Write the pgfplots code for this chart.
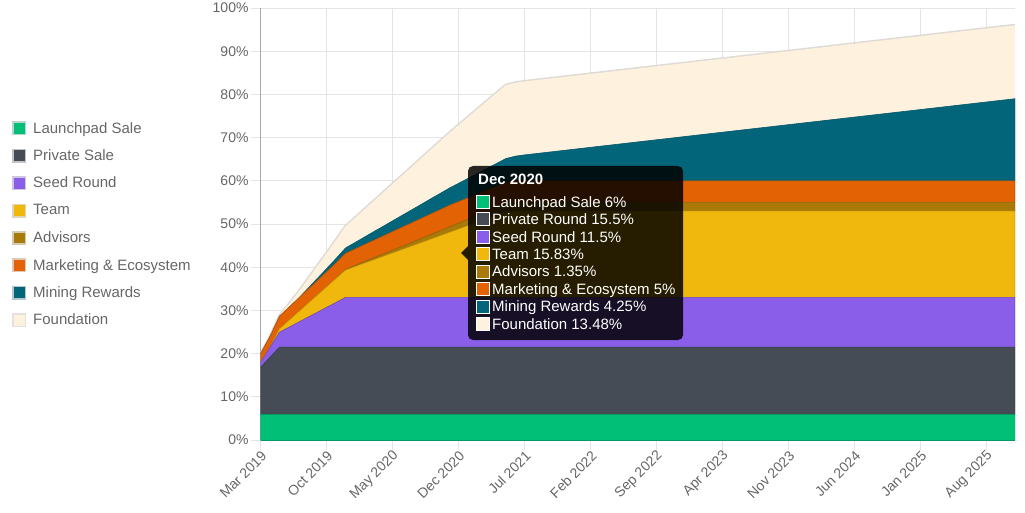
\documentclass[border=0pt]{standalone}
\usepackage{pgfplots}
\pgfplotsset{compat=1.18}
\usepackage{pgfplotstable}
\usepackage{fontspec}
\setmainfont{Liberation Sans}

\definecolor{cLP}{HTML}{02BF78}
\definecolor{cPR}{HTML}{464C56}
\definecolor{cSD}{HTML}{8B5EEA}
\definecolor{cTM}{HTML}{F0B80C}
\definecolor{cAD}{HTML}{AA7A08}
\definecolor{cMK}{HTML}{E26204}
\definecolor{cMN}{HTML}{03657A}
\definecolor{cFD}{HTML}{FEF2DE}
\definecolor{cFDline}{HTML}{DEDAD5}
\definecolor{gridc}{HTML}{E4E4E4}
\definecolor{axc}{HTML}{A8A8A8}
\definecolor{labc}{HTML}{666666}

\pgfplotstableread{
m lp pr sd tm ad mk mn fd
0 6 10.85 1.15 0 0 2.00 0 0
1 6 13.175 2.30 0 0 2.50 0 0
2 6 15.5 3.45 0.79 0 2.90 0 0.10
3 6 15.5 4.60 1.58 0 3.02 0 0.75
4 6 15.5 5.75 2.37 0 3.13 0 1.46
5 6 15.5 6.90 3.17 0 3.25 0.25 2.17
6 6 15.5 8.05 3.96 0 3.37 0.50 2.88
7 6 15.5 9.20 4.75 0 3.48 0.75 3.58
8 6 15.5 10.35 5.54 0.05 3.60 1.00 4.29
9 6 15.5 11.5 6.33 0.15 3.72 1.25 5.00
10 6 15.5 11.5 7.12 0.25 3.83 1.50 5.70
11 6 15.5 11.5 7.92 0.35 3.95 1.75 6.41
12 6 15.5 11.5 8.71 0.45 4.07 2.00 7.12
13 6 15.5 11.5 9.50 0.55 4.18 2.25 7.82
14 6 15.5 11.5 10.29 0.65 4.30 2.50 8.53
15 6 15.5 11.5 11.08 0.75 4.42 2.75 9.24
16 6 15.5 11.5 11.87 0.85 4.53 3.00 9.94
17 6 15.5 11.5 12.66 0.95 4.65 3.25 10.65
18 6 15.5 11.5 13.46 1.05 4.77 3.50 11.36
19 6 15.5 11.5 14.25 1.15 4.88 3.75 12.07
20 6 15.5 11.5 15.04 1.25 5 4.00 12.77
21 6 15.5 11.5 15.83 1.35 5 4.25 13.48
22 6 15.5 11.5 16.62 1.45 5 4.50 14.19
23 6 15.5 11.5 17.41 1.55 5 4.75 14.89
24 6 15.5 11.5 18.20 1.65 5 5.00 15.60
25 6 15.5 11.5 19.00 1.75 5 5.25 16.31
26 6 15.5 11.5 19.79 1.85 5 5.50 17
27 6 15.5 11.5 20 1.95 5 5.75 17
28 6 15.5 11.5 20 2 5 6.00 17
29 6 15.5 11.5 20 2 5 6.25 17
30 6 15.5 11.5 20 2 5 6.50 17
31 6 15.5 11.5 20 2 5 6.75 17
32 6 15.5 11.5 20 2 5 7.00 17
33 6 15.5 11.5 20 2 5 7.25 17
34 6 15.5 11.5 20 2 5 7.50 17
35 6 15.5 11.5 20 2 5 7.75 17
36 6 15.5 11.5 20 2 5 8.00 17
37 6 15.5 11.5 20 2 5 8.25 17
38 6 15.5 11.5 20 2 5 8.50 17
39 6 15.5 11.5 20 2 5 8.75 17
40 6 15.5 11.5 20 2 5 9.00 17
41 6 15.5 11.5 20 2 5 9.25 17
42 6 15.5 11.5 20 2 5 9.50 17
43 6 15.5 11.5 20 2 5 9.75 17
44 6 15.5 11.5 20 2 5 10.00 17
45 6 15.5 11.5 20 2 5 10.25 17
46 6 15.5 11.5 20 2 5 10.50 17
47 6 15.5 11.5 20 2 5 10.75 17
48 6 15.5 11.5 20 2 5 11.00 17
49 6 15.5 11.5 20 2 5 11.25 17
50 6 15.5 11.5 20 2 5 11.50 17
51 6 15.5 11.5 20 2 5 11.75 17
52 6 15.5 11.5 20 2 5 12.00 17
53 6 15.5 11.5 20 2 5 12.25 17
54 6 15.5 11.5 20 2 5 12.50 17
55 6 15.5 11.5 20 2 5 12.75 17
56 6 15.5 11.5 20 2 5 13.00 17
57 6 15.5 11.5 20 2 5 13.25 17
58 6 15.5 11.5 20 2 5 13.50 17
59 6 15.5 11.5 20 2 5 13.75 17
60 6 15.5 11.5 20 2 5 14.00 17
61 6 15.5 11.5 20 2 5 14.25 17
62 6 15.5 11.5 20 2 5 14.50 17
63 6 15.5 11.5 20 2 5 14.75 17
64 6 15.5 11.5 20 2 5 15.00 17
65 6 15.5 11.5 20 2 5 15.25 17
66 6 15.5 11.5 20 2 5 15.50 17
67 6 15.5 11.5 20 2 5 15.75 17
68 6 15.5 11.5 20 2 5 16.00 17
69 6 15.5 11.5 20 2 5 16.25 17
70 6 15.5 11.5 20 2 5 16.50 17
71 6 15.5 11.5 20 2 5 16.75 17
72 6 15.5 11.5 20 2 5 17.00 17
73 6 15.5 11.5 20 2 5 17.25 17
74 6 15.5 11.5 20 2 5 17.50 17
75 6 15.5 11.5 20 2 5 17.75 17
76 6 15.5 11.5 20 2 5 18.00 17
77 6 15.5 11.5 20 2 5 18.25 17
78 6 15.5 11.5 20 2 5 18.50 17
79 6 15.5 11.5 20 2 5 18.75 17
80 6 15.5 11.5 20 2 5 19.00 17
}\vesting

\pgfplotsset{
  legsq/.style={legend image code/.code={%
    \draw[line width=1.6pt, draw=#1!45!gray!40!white, fill=#1] (0.8pt,-6.2pt) rectangle (13.2pt,6.2pt);
    \path[draw=none, fill=none] (0pt,0pt) -- (21pt,0pt);}},
}

\begin{document}
\begin{tikzpicture}[x=1pt,y=1pt]
\path[use as bounding box] (0,0) rectangle (1025,512);
\begin{axis}[
  at={(260.7pt,72pt)}, anchor=south west,
  scale only axis, width=754.3pt, height=432pt,
  xmin=0, xmax=80, ymin=0, ymax=100,
  stack plots=y,
  xtick={0,7,...,77},
  xticklabels={Mar 2019,Oct 2019,May 2020,Dec 2020,Jul 2021,Feb 2022,Sep 2022,Apr 2023,Nov 2023,Jun 2024,Jan 2025,Aug 2025},
  ytick={0,10,...,100},
  yticklabels={0\%,10\%,20\%,30\%,40\%,50\%,60\%,70\%,80\%,90\%,100\%},
  axis x line*=bottom, axis y line*=left,
  axis line style={draw=axc, line width=0.8pt, -},
  grid=major, major grid style={draw=gridc, line width=0.8pt},
  tick align=outside, major tick length=10pt,
  tick style={draw=gridc, line width=0.8pt},
  tick label style={font=\fontsize{14}{16}\selectfont, text=labc},
  xticklabel style={rotate=45, anchor=east, inner sep=1pt, xshift=1pt, yshift=-5pt},
  yticklabel style={inner sep=2pt},
  legend style={at={(axis description cs:-0.3297,0.738)}, anchor=north west,
    draw=none, fill=none, inner sep=0pt, row sep=13.4pt, column sep=0pt,
    font=\fontsize{15}{17}\selectfont, text=labc, nodes={inner sep=0pt}},
  legend cell align=left,
]
\addplot[fill=cLP, draw=cLP!80!black, line width=0.6pt, legsq=cLP] table[x=m,y=lp]{\vesting} \closedcycle;
\addlegendentry{Launchpad Sale}
\addplot[fill=cPR, draw=cPR!85!black, line width=0.6pt, legsq=cPR] table[x=m,y=pr]{\vesting} \closedcycle;
\addlegendentry{Private Sale}
\addplot[fill=cSD, draw=cSD!80!black, line width=0.6pt, legsq=cSD] table[x=m,y=sd]{\vesting} \closedcycle;
\addlegendentry{Seed Round}
\addplot[fill=cTM, draw=cTM!85!black, line width=0.6pt, legsq=cTM] table[x=m,y=tm]{\vesting} \closedcycle;
\addlegendentry{Team}
\addplot[fill=cAD, draw=cAD!85!black, line width=0.6pt, legsq=cAD] table[x=m,y=ad]{\vesting} \closedcycle;
\addlegendentry{Advisors}
\addplot[fill=cMK, draw=cMK!85!black, line width=0.6pt, legsq=cMK] table[x=m,y=mk]{\vesting} \closedcycle;
\addlegendentry{Marketing \& Ecosystem}
\addplot[fill=cMN, draw=cMN!85!black, line width=0.6pt, legsq=cMN] table[x=m,y=mn]{\vesting} \closedcycle;
\addlegendentry{Mining Rewards}
\addplot[fill=cFD, draw=none, legsq=cFD] table[x=m,y=fd]{\vesting} \closedcycle;
\addlegendentry{Foundation}
\addplot[draw=cFDline, line width=3pt, forget plot] table[x=m,y expr=0]{\vesting};
\end{axis}

% tooltip
\begin{scope}
\fill[black, opacity=0.84, rounded corners=5pt] (468,172) rectangle (683,346);
\fill[black, opacity=0.84] (468,266) -- (461,259) -- (468,252) -- cycle;
\node[anchor=base west, text=white, inner sep=0pt, font=\bfseries\fontsize{15}{17}\selectfont] at (478,327) {Dec 2020};
\foreach \c/\t [count=\i from 0] in {cLP/Launchpad Sale 6\%, cPR/Private Round 15.5\%, cSD/Seed Round 11.5\%, cTM/Team 15.83\%, cAD/Advisors 1.35\%, cMK/Marketing \& Ecosystem 5\%, cMN/Mining Rewards 4.25\%, cFD/Foundation 13.48\%}{
  \pgfmathsetmacro{\yy}{310-17.4*\i}
  \draw[fill=\c, draw=white, line width=0.8pt] (476,\yy-6.5) rectangle (489,\yy+6.5);
  \node[anchor=base west, text=white, inner sep=0pt, font=\fontsize{15}{17}\selectfont] at (492,\yy-5.3) {\t};
}
\end{scope}
\end{tikzpicture}
\end{document}
